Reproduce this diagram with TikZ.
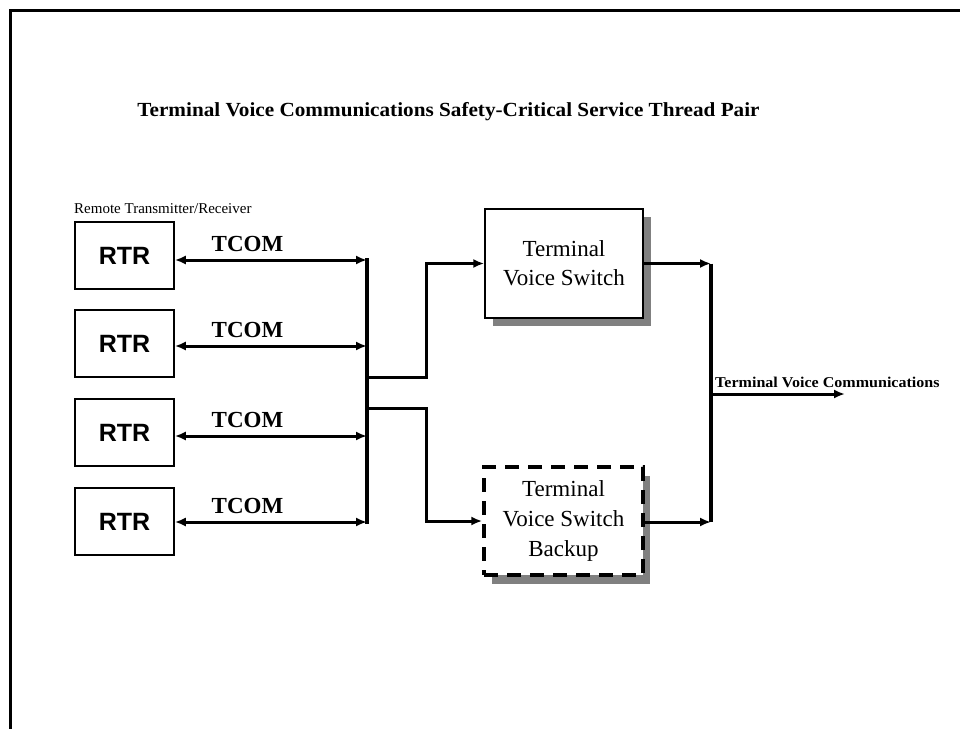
\documentclass[tikz,border=0pt]{standalone}
\usepackage{fontspec}
\setmainfont{Liberation Serif}
\newfontfamily\arialfont{Liberation Sans}
\usepackage{graphicx}
\usetikzlibrary{arrows.meta}
\definecolor{shadowgray}{HTML}{808080}
\newcommand{\fsz}[2]{\fontsize{#1}{#2}\selectfont}
\tikzset{
  rtrbox/.style={draw, line width=1.5pt, fill=white, minimum width=99pt, minimum height=67pt, inner sep=0pt, font=\arialfont\bfseries\fsz{25}{28}},
  tvsbox/.style={draw, line width=1.5pt, fill=white, minimum width=158pt, minimum height=109pt, inner sep=0pt, align=center, font=\fsz{23}{29}},
  bkpbox/.style={draw, line width=3.5pt, dash pattern=on 14pt off 9pt, fill=white, minimum width=159pt, minimum height=108pt, inner sep=0pt, align=center, font=\fsz{23}{30}},
  tcomlbl/.style={font=\bfseries\fsz{23}{26}, anchor=base, inner sep=0pt},
  link/.style={line width=3pt},
  tip/.style={-{Latex[length=11pt,width=9pt]}},
  dtip/.style={{Latex[length=11pt,width=9pt]}-{Latex[length=11pt,width=9pt]}},
}
\begin{document}
\begin{tikzpicture}[x=1pt,y=-1pt]
\useasboundingbox (0,0) rectangle (960,728);
% frame
\draw[line width=3pt] (962,10.5) -- (10,10.5) -- (10,730);

% title
\node[font=\bfseries\fsz{20}{24}, anchor=base, inner sep=0pt] (title) at (448.5,116) {\scalebox{1.06}[1]{Terminal Voice Communications Safety-Critical Service Thread Pair}};

% remote label
\node[font=\fsz{15}{18}, anchor=base west, inner sep=0pt] (rtrlabel) at (74,213) {Remote Transmitter/Receiver};

% RTR boxes
\node[rtrbox] (rtr1) at (124.5,255.5) {RTR};
\node[rtrbox] (rtr2) at (124.5,343.5) {RTR};
\node[rtrbox] (rtr3) at (124.5,432.5) {RTR};
\node[rtrbox] (rtr4) at (124.5,521.5) {RTR};

% bus coordinates
\coordinate (b1) at (367,260);
\coordinate (b2) at (367,346);
\coordinate (b3) at (367,436);
\coordinate (b4) at (367,522);
\coordinate (j1) at (367,377);
\coordinate (j2) at (367,408);

% bus
\draw[line width=3.2pt, line cap=rect] (b1) -- (b4);

% TCOM links
\foreach \i in {1,2,3,4}{
  \draw[link, dtip] (rtr\i.east |- b\i) -- (b\i);
}
\node[tcomlbl] (tcom1) at (247.5,251) {TCOM};
\node[tcomlbl] (tcom2) at (247.5,337) {TCOM};
\node[tcomlbl] (tcom3) at (247.5,427) {TCOM};
\node[tcomlbl] (tcom4) at (247.5,513) {TCOM};

% shadows
\fill[shadowgray] (493,217) rectangle (651,326);
\fill[shadowgray] (492,476) rectangle (650,584);

% switch boxes
\node[tvsbox] (tvs) at (564,263.5) {Terminal\\Voice Switch};
\node[bkpbox] (bkp) at (563.5,521) {Terminal\\Voice Switch\\Backup};

% branches to switches
\draw[link, tip] (j1) -- (426,377) |- (tvs.west);
\draw[link, tip] (j2) -- (426,408) |- (bkp.west);

% output
\coordinate (o1) at (711,263.5);
\coordinate (o2) at (711,522);
\coordinate (o3) at (711,394);
\coordinate (oend) at (845,394);
\draw[line width=3.2pt] (o1) -- (o2);
\draw[link, tip] (tvs.east) -- (o1);
\draw[link, tip] (bkp.east |- o2) -- (o2);
\draw[link, tip] (o3) -- (oend);
\node[font=\bfseries\fsz{15}{17}, anchor=base west, inner sep=0pt] (outlabel) at (715,387) {\scalebox{1.07}[1]{Terminal Voice Communications}};
\end{tikzpicture}
\end{document}
